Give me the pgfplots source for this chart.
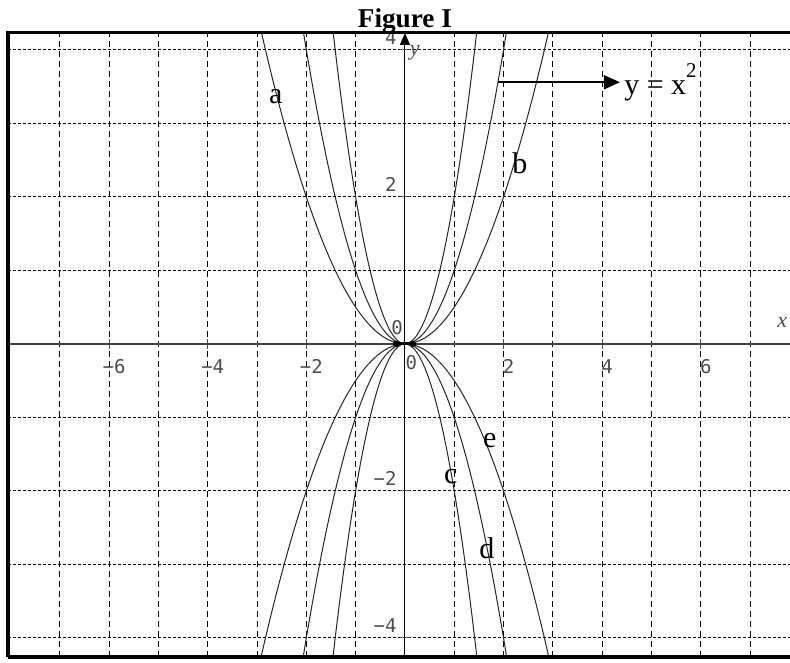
\documentclass[border=0pt]{standalone}
\usepackage{fontspec}
\setmainfont{Liberation Serif}
\newfontfamily\tickfont{DejaVu Sans Mono}
\usepackage{pgfplots}
\pgfplotsset{compat=1.18}
\usepackage{pgfplotstable}
\usetikzlibrary{arrows.meta}

% y = 0.5 x^2 (up) and y = -0.5 x^2 (down)
\pgfplotstableread{
x up down
-3.0 4.5 -4.5
-2.8 3.92 -3.92
-2.6 3.38 -3.38
-2.4 2.88 -2.88
-2.2 2.42 -2.42
-2.0 2 -2
-1.8 1.62 -1.62
-1.6 1.28 -1.28
-1.4 0.98 -0.98
-1.2 0.72 -0.72
-1.0 0.5 -0.5
-0.8 0.32 -0.32
-0.6 0.18 -0.18
-0.4 0.08 -0.08
-0.2 0.02 -0.02
0 0 0
0.2 0.02 -0.02
0.4 0.08 -0.08
0.6 0.18 -0.18
0.8 0.32 -0.32
1.0 0.5 -0.5
1.2 0.72 -0.72
1.4 0.98 -0.98
1.6 1.28 -1.28
1.8 1.62 -1.62
2.0 2 -2
2.2 2.42 -2.42
2.4 2.88 -2.88
2.6 3.38 -3.38
2.8 3.92 -3.92
3.0 4.5 -4.5
}\khalf

% y = x^2 and y = -x^2
\pgfplotstableread{
x up down
-2.2 4.84 -4.84
-2.0 4 -4
-1.8 3.24 -3.24
-1.6 2.56 -2.56
-1.4 1.96 -1.96
-1.2 1.44 -1.44
-1.0 1 -1
-0.8 0.64 -0.64
-0.6 0.36 -0.36
-0.4 0.16 -0.16
-0.2 0.04 -0.04
0 0 0
0.2 0.04 -0.04
0.4 0.16 -0.16
0.6 0.36 -0.36
0.8 0.64 -0.64
1.0 1 -1
1.2 1.44 -1.44
1.4 1.96 -1.96
1.6 2.56 -2.56
1.8 3.24 -3.24
2.0 4 -4
2.2 4.84 -4.84
}\kone

% y = 2x^2 and y = -2x^2
\pgfplotstableread{
x up down
-1.5 4.5 -4.5
-1.4 3.92 -3.92
-1.3 3.38 -3.38
-1.2 2.88 -2.88
-1.1 2.42 -2.42
-1.0 2 -2
-0.9 1.62 -1.62
-0.8 1.28 -1.28
-0.7 0.98 -0.98
-0.6 0.72 -0.72
-0.5 0.5 -0.5
-0.4 0.32 -0.32
-0.3 0.18 -0.18
-0.2 0.08 -0.08
-0.1 0.02 -0.02
0 0 0
0.1 0.02 -0.02
0.2 0.08 -0.08
0.3 0.18 -0.18
0.4 0.32 -0.32
0.5 0.5 -0.5
0.6 0.72 -0.72
0.7 0.98 -0.98
0.8 1.28 -1.28
0.9 1.62 -1.62
1.0 2 -2
1.1 2.42 -2.42
1.2 2.88 -2.88
1.3 3.38 -3.38
1.4 3.92 -3.92
1.5 4.5 -4.5
}\ktwo

\begin{document}
\begin{tikzpicture}[curve/.style={black!85, line width=0.5pt, smooth, mark=none}]
\path[use as bounding box] (-4pt,-2.5pt) rectangle (391pt,328.5pt);
\begin{axis}[
  at={(0,0)}, anchor=south west,
  width=391pt, height=312pt, scale only axis,
  xmin=-8.05, xmax=7.81, ymin=-4.26, ymax=4.23,
  axis lines=middle,
  x axis line style={-, line width=1pt, black!75},
  y axis line style={-{Triangle[width=5pt,length=6pt]}, line width=0.5pt, black},
  xtick={-6,-4,-2,2,4,6}, xticklabels={−6,−4,−2,2,4,6},
  ytick={-4,-2,2,4}, yticklabels={−4,−2,2,4},
  minor xtick={-7,-5,-3,-1,1,3,5,7},
  minor ytick={-3,-1,1,3},
  grid=both,
  major x grid style={black, line width=0.5pt, dash pattern=on 3pt off 2pt},
  minor x grid style={black, line width=0.5pt, dash pattern=on 3pt off 2pt},
  major y grid style={black, line width=0.5pt, dash pattern=on 1.5pt off 1pt},
  minor y grid style={black, line width=0.5pt, dash pattern=on 1.5pt off 1pt},
  major tick length=5pt, minor tick length=0pt,
  tick align=center,
  tick style={black!70, line width=0.5pt},
  xticklabel style={font=\tickfont\fontsize{9.5}{11}\selectfont, text=black!70,
    anchor=north, inner sep=0pt, xshift=2.5pt, yshift=-5pt},
  yticklabel style={font=\tickfont\fontsize{9.5}{11}\selectfont, text=black!70,
    anchor=south east, inner sep=0pt, xshift=-1.5pt, yshift=2.5pt},
  clip mode=individual,
]
\addplot[curve] table[x=x, y=up] \khalf;
\addplot[curve] table[x=x, y=up] \kone;
\addplot[curve] table[x=x, y=up] \ktwo;
\addplot[curve] table[x=x, y=down] \khalf;
\addplot[curve] table[x=x, y=down] \kone;
\addplot[curve] table[x=x, y=down] \ktwo;
\addplot[black, line width=1.6pt] coordinates {(-0.18,0) (0.16,0)};
\addplot[only marks, mark=*, mark size=1.4pt, black] coordinates {(-0.18,0) (0.16,0)};

% frame
\draw[line width=1.5pt] (rel axis cs:0,0) -- (rel axis cs:0,1) -- (rel axis cs:1.1,1);
\draw[line width=2pt] (rel axis cs:0,0) -- (rel axis cs:1.1,0);

% labels
\node[font=\fontsize{15}{18}\selectfont] at (axis cs:-2.62,3.36) {a};
\node[font=\fontsize{15}{18}\selectfont] at (axis cs:2.33,2.46) {b};
\node[font=\fontsize{15}{18}\selectfont] at (axis cs:0.93,-1.81) {c};
\node[font=\fontsize{15}{18}\selectfont] at (axis cs:1.66,-2.78) {d};
\node[font=\fontsize{15}{18}\selectfont] at (axis cs:1.72,-1.31) {e};
\node[font=\tickfont\fontsize{9.5}{11}\selectfont, text=black!70] at (axis cs:-0.16,0.22) {0};
\node[font=\tickfont\fontsize{9.5}{11}\selectfont, text=black!70] at (axis cs:0.13,-0.26) {0};
\node[font=\itshape\fontsize{11}{12}\selectfont, text=black!70] at (axis cs:0.2,3.96) {y};
\node[font=\itshape\fontsize{11}{12}\selectfont, text=black!70, anchor=east, inner sep=1pt] at (axis cs:7.8,0.29) {x};

% y = x^2 pointer
\draw[line width=1pt, -{Triangle[length=8pt,width=7pt]}] (axis cs:1.89,3.56) -- (axis cs:4.36,3.56);
\node[anchor=west, font=\fontsize{15}{18}\selectfont, inner sep=1pt] at (axis cs:4.40,3.56) {y = x\raisebox{0.5ex}{\textsuperscript{2}}};

% title
\node[anchor=base, font=\bfseries\fontsize{13.6}{16}\selectfont] at (axis cs:0,4.30) {Figure I};
\end{axis}
\end{tikzpicture}
\end{document}
